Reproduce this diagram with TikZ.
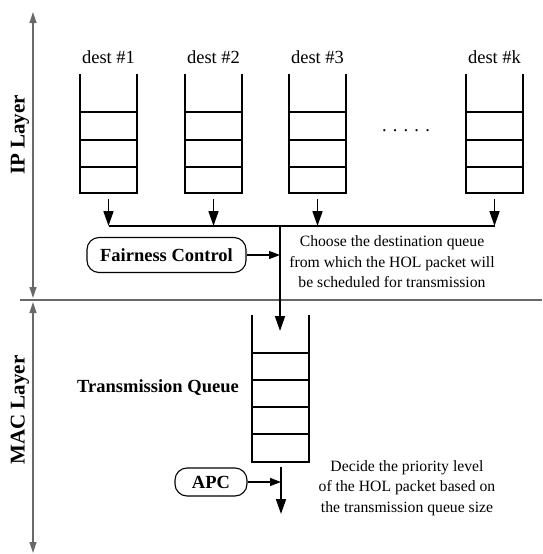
\documentclass[tikz,border=0pt]{standalone}
\usepackage{fontspec}
\setmainfont{Liberation Serif}
\usetikzlibrary{arrows.meta}
\definecolor{layergray}{RGB}{105,105,105}

\tikzset{
  qline/.style={line width=1.7pt},
  flow/.style={line width=1.7pt,-{Triangle[length=15pt,width=10pt]}},
  sideflow/.style={line width=1.1pt,-{Triangle[length=11pt,width=8pt]}},
  axis/.style={layergray,line width=1.2pt},
  axisarrow/.style={axis,{Triangle[length=11pt,width=7pt]}-{Triangle[length=11pt,width=7pt]}},
  ctrlbox/.style={draw,line width=1.1pt,rounded corners=12pt,font=\fontsize{18.5}{20}\selectfont\bfseries},
  qlabel/.style={font=\fontsize{18.5}{20}\selectfont},
  layerlabel/.style={rotate=90,font=\fontsize{21}{24}\selectfont\bfseries},
  note/.style={align=center,font=\fontsize{15.7}{20.5}\selectfont},
}

\begin{document}
\begin{tikzpicture}[x=1pt,y=-1pt]
\useasboundingbox (0,0) rectangle (542,554);

% Layer axes
\draw[axisarrow] (33,12) -- (33,298);
\draw[axisarrow] (33,302) -- (33,553);
\draw[axis] (20,300) -- (542,300);
\node[layerlabel] (ip) at (20,135) {IP Layer};
\node[layerlabel] (mac) at (20,410) {MAC Layer};

% Destination queues
\foreach \x/\lbl/\nm in {80/1/q1, 185/2/q2, 289/3/q3, 466/k/qk} {
    \draw[qline] (\x,74) -- (\x,193) -- (\x+57,193) -- (\x+57,74);
    \foreach \y in {112,140,167}
        \draw[qline] (\x,\y) -- (\x+57,\y);
    \node[qlabel] (\nm-label) at (\x+28.5,57) {dest \#\lbl};
    \coordinate (\nm-out) at (\x+28.5,199);
    \coordinate (\nm-in) at (\x+28.5,226);
    \draw[flow] (\nm-out) -- (\nm-in);
}
\node[qlabel] (dots) at (406,131) {. . . . .};

% Merge to transmission queue
\coordinate (join) at (280,226);
\coordinate (tq-in) at (280,331);
\draw[qline] (q1-in) -- (qk-in);
\draw[flow] (join) -- (tq-in);

% Fairness control
\node[ctrlbox,minimum width=159pt,minimum height=35pt] (fair) at (166.5,255) {Fairness Control};
\draw[sideflow] (fair.east) -- (fair.east -| join);
\node[note] (choose) at (392,262) {Choose the destination queue\\from which the HOL packet will\\be scheduled for transmission};

% Transmission queue
\draw[qline] (252,315) -- (252,462) -- (309,462) -- (309,315);
\foreach \y in {353,380,407,434}
    \draw[qline] (252,\y) -- (309,\y);
\node[qlabel,font=\fontsize{18.5}{20}\selectfont\bfseries] (tq-label) at (158,388) {Transmission Queue};
\coordinate (tq-out) at (281,467);
\coordinate (tq-end) at (281,514);
\draw[flow] (tq-out) -- (tq-end);

% APC
\node[ctrlbox,minimum width=72pt,minimum height=28pt] (apc) at (211,482) {APC};
\draw[sideflow] (apc.east) -- (apc.east -| tq-out);
\node[note] (decide) at (407,488) {Decide the priority level\\of the HOL packet based on\\the transmission queue size};
\end{tikzpicture}
\end{document}
